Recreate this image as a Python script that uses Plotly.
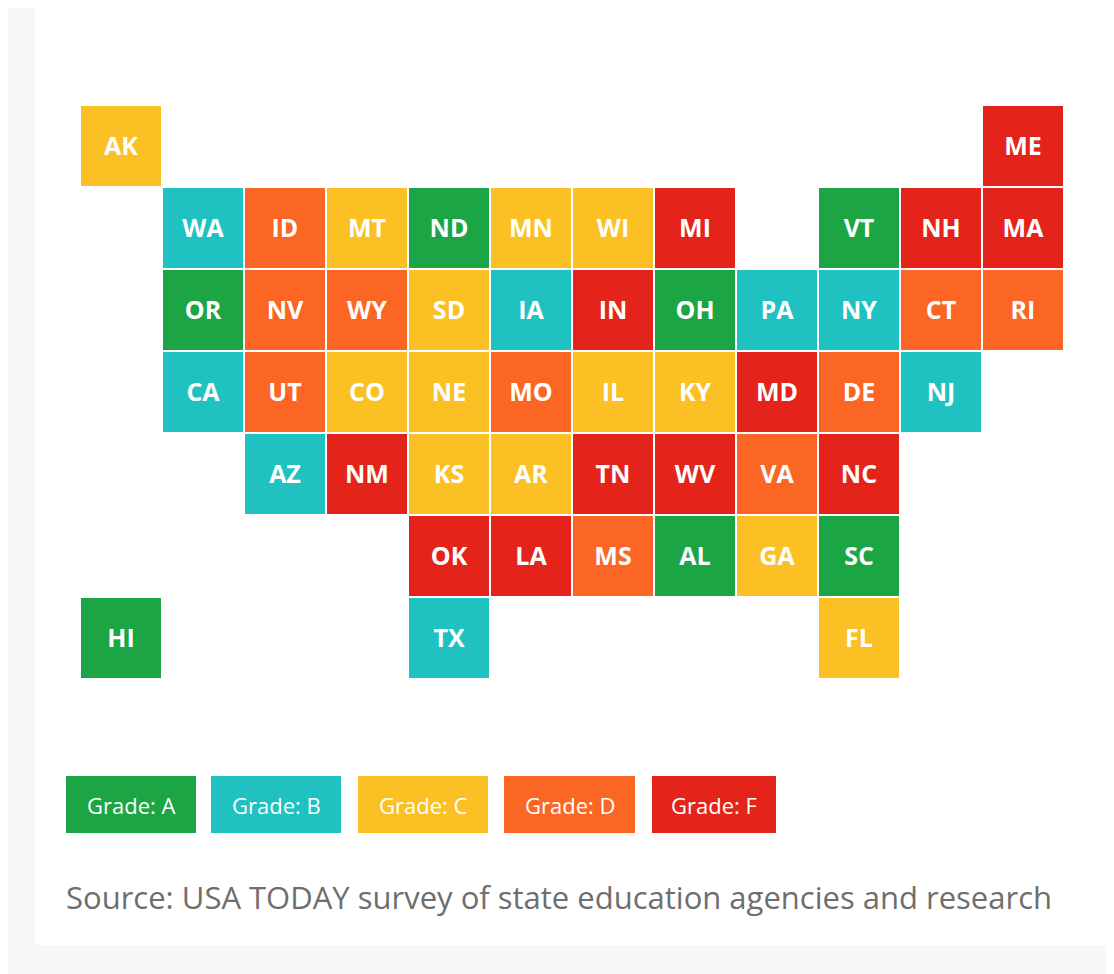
import plotly.graph_objects as go

# tile grid: state, column, row, grade
states = ["AK", "ME",
          "WA", "ID", "MT", "ND", "MN", "WI", "MI", "VT", "NH", "MA",
          "OR", "NV", "WY", "SD", "IA", "IN", "OH", "PA", "NY", "CT", "RI",
          "CA", "UT", "CO", "NE", "MO", "IL", "KY", "MD", "DE", "NJ",
          "AZ", "NM", "KS", "AR", "TN", "WV", "VA", "NC",
          "OK", "LA", "MS", "AL", "GA", "SC",
          "HI", "TX", "FL"]
cols = [0, 11,
        1, 2, 3, 4, 5, 6, 7, 9, 10, 11,
        1, 2, 3, 4, 5, 6, 7, 8, 9, 10, 11,
        1, 2, 3, 4, 5, 6, 7, 8, 9, 10,
        2, 3, 4, 5, 6, 7, 8, 9,
        4, 5, 6, 7, 8, 9,
        0, 4, 9]
rows = [0, 0] + [1] * 10 + [2] * 11 + [3] * 10 + [4] * 8 + [5] * 6 + [6] * 3
grades = ["C", "F",
          "B", "D", "C", "A", "C", "C", "F", "A", "F", "F",
          "A", "D", "D", "C", "B", "F", "A", "B", "B", "D", "D",
          "B", "D", "C", "C", "D", "C", "C", "F", "D", "B",
          "B", "F", "C", "C", "F", "F", "D", "F",
          "F", "F", "D", "A", "C", "A",
          "A", "B", "C"]

grade_names = ["A", "B", "C", "D", "F"]
grade_colors = ["#1ba545", "#20c1c1", "#fbc124", "#fb6624", "#e4241a"]

n_cols, n_rows = 12, 7
z = [[None] * n_cols for _ in range(n_rows)]
txt = [[""] * n_cols for _ in range(n_rows)]
for s, c, r, g in zip(states, cols, rows, grades):
    z[r][c] = grade_names.index(g)
    txt[r][c] = f"<b>{s}</b>"

scale = []
for i, col in enumerate(grade_colors):
    scale.append([i / 5, col])
    scale.append([(i + 1) / 5, col])

fig = go.Figure(go.Heatmap(
    z=z, text=txt, texttemplate="%{text}",
    textfont=dict(family="Open Sans", size=25, color="white"),
    colorscale=scale, zmin=-0.5, zmax=4.5, showscale=False,
    xgap=2, ygap=2, hoverinfo="skip",
))

# page has an 8px body margin; work in window pixels and shift
OFF = 8
W, H = 1114 - OFF, 974 - OFF


def px(x):
    return (x - OFF) / W


def py(y):
    return 1 - (y - OFF) / H


shapes = [dict(type="rect", xref="paper", yref="paper", x0=px(35), x1=1, y0=py(945), y1=1,
               fillcolor="white", line_width=0, layer="below")]
annotations = []
legend_x = [(66, 196), (211, 341), (358, 488), (504, 635), (652, 776)]
for (x0, x1), g, col in zip(legend_x, grade_names, grade_colors):
    shapes.append(dict(type="rect", xref="paper", yref="paper", x0=px(x0), x1=px(x1),
                       y0=py(833), y1=py(776), fillcolor=col, line_width=0, layer="below"))
    annotations.append(dict(xref="paper", yref="paper", x=px((x0 + x1) / 2), y=py(805),
                            xanchor="center", yanchor="middle",
                            text=f"Grade: {g}", showarrow=False,
                            font=dict(family="Open Sans", size=22, color="white")))
annotations.append(dict(xref="paper", yref="paper", x=px(64), y=py(897), xanchor="left",
                        yanchor="middle",
                        text="Source: USA TODAY survey of state education agencies and research",
                        showarrow=False, font=dict(family="Open Sans", size=31, color="#6e6e6e")))

pitch = 82
fig.update_layout(
    width=W, height=H, margin=dict(l=0, r=0, t=0, b=0),
    paper_bgcolor="#f7f7f7", plot_bgcolor="rgba(0,0,0,0)",
    xaxis=dict(range=[(OFF - 121) / pitch, (OFF + W - 121) / pitch], visible=False, fixedrange=True),
    yaxis=dict(range=[(OFF + H - 146) / pitch, (OFF - 146) / pitch], visible=False, fixedrange=True),
    shapes=shapes, annotations=annotations,
)
fig.write_html("out.html")
